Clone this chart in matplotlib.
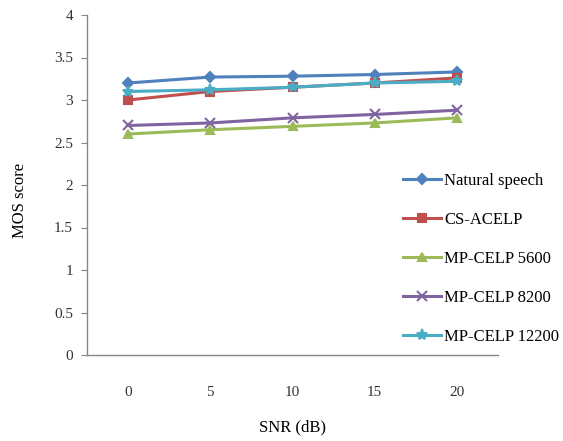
import matplotlib
matplotlib.use("Agg")
import matplotlib.pyplot as plt

snr = [0, 5, 10, 15, 20]
natural = [3.20, 3.27, 3.28, 3.30, 3.33]
cs_acelp = [3.00, 3.10, 3.15, 3.20, 3.26]
mp5600 = [2.60, 2.65, 2.69, 2.73, 2.79]
mp8200 = [2.70, 2.73, 2.79, 2.83, 2.88]
mp12200 = [3.10, 3.12, 3.15, 3.20, 3.22]
yticks = [0, 0.5, 1, 1.5, 2, 2.5, 3, 3.5, 4]

plt.rcParams['font.family'] = ['Liberation Serif', 'DejaVu Serif']

fig = plt.figure(figsize=(5.63, 4.41), dpi=100)
ax = fig.add_axes([87/563, 1-355/441, (498-87)/563, (355-15)/441])

x = list(range(len(snr)))
series = [
    ("Natural speech", natural, "#4F81BD", "D", 5),
    ("CS-ACELP", cs_acelp, "#C0504D", "s", 6),
    ("MP-CELP 5600", mp5600, "#9BBB59", "^", 6),
    ("MP-CELP 8200", mp8200, "#8064A2", "x", 7),
    ("MP-CELP 12200", mp12200, "#4BACC6", "*", 8),
]
handles = []
for name, vals, c, m, ms in series:
    h, = ax.plot(x, vals, color=c, marker=m, markersize=ms, linewidth=2.2,
                 markeredgewidth=1.5, label=name)
    handles.append(h)

ax.set_xlim(-0.5, len(snr) - 0.5)
ax.set_ylim(0, 4)
ax.set_xticks(x)
ax.set_xticklabels([str(s) for s in snr])
ax.set_yticks(yticks)
ax.set_yticklabels([f"{t:g}" for t in yticks])
for sp in ["top", "right"]:
    ax.spines[sp].set_visible(False)
for sp in ["left", "bottom"]:
    ax.spines[sp].set_color("#868686")
    ax.spines[sp].set_linewidth(1.0)
ax.tick_params(axis='y', length=4, color="#868686", labelsize=11, pad=6, labelcolor="#333333")
ax.tick_params(axis='x', length=0, labelsize=11, pad=22, labelcolor="#333333")
ax.set_xlabel("SNR (dB)", fontsize=12)
ax.xaxis.set_label_coords(0.5, -(419-355)/340, transform=ax.transAxes)
ax.set_ylabel("MOS score", fontsize=12)
ax.yaxis.set_label_coords(-(87-28)/411, (355-200)/340, transform=ax.transAxes)

fig.legend(handles=handles, loc="upper left", bbox_to_anchor=(396/563, 1-166/441),
           frameon=False, fontsize=12, handlelength=2.3, handletextpad=0.2,
           labelspacing=1.38, borderaxespad=0)

fig.savefig("out.png", dpi=100)
